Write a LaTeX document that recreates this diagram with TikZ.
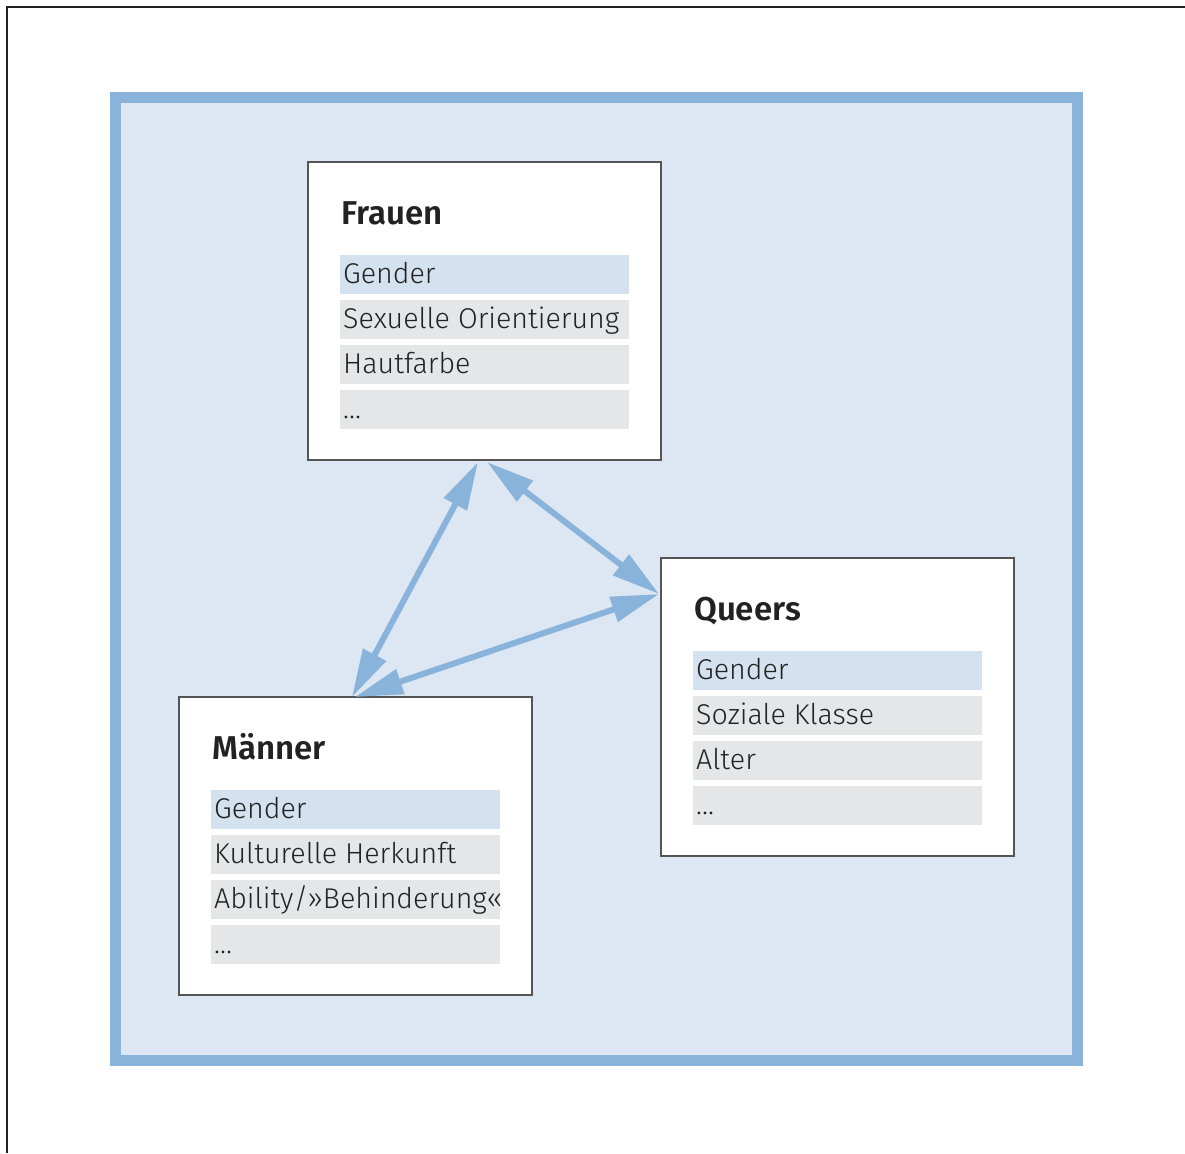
\documentclass[tikz,border=0pt]{standalone}
\usepackage{fontspec}
\setmainfont{Fira Sans Light}[BoldFont={Fira Sans SemiBold}]
\usetikzlibrary{arrows.meta,calc}
\definecolor{framecol}{HTML}{89B3DA}
\definecolor{fieldcol}{HTML}{DDE7F3}
\definecolor{keyrow}{HTML}{D4E2F0}
\definecolor{plainrow}{HTML}{E5E6E8}
\definecolor{inkcol}{HTML}{222222}
\definecolor{boxline}{HTML}{555555}
\newcommand\groupbox[6]{%
  % #1 name, #2 position of the top left corner, #3 title, #4-#6 rows
  \node[groupframe] (#1) at #2 {};
  \node[titletext] (#1-title) at ([shift={(33,62)}]#1.north west) {#3};
  \node[keyrowbox] (#1-r1) at ([shift={(32,93)}]#1.north west) {};
  \node[plainrowbox] (#1-r2) at ([shift={(32,138)}]#1.north west) {};
  \node[plainrowbox] (#1-r3) at ([shift={(32,183)}]#1.north west) {};
  \node[plainrowbox] (#1-r4) at ([shift={(32,228)}]#1.north west) {};
  \node[rowtext] at ([shift={(3,28)}]#1-r1.north west) {Gender};
  \node[rowtext] at ([shift={(3,28)}]#1-r2.north west) {#4};
  \node[rowtext] at ([shift={(3,28)}]#1-r3.north west) {#5};
  \node[rowtext] at ([shift={(3,28)}]#1-r4.north west) {#6};
}
\begin{document}
\begin{tikzpicture}[x=1pt,y=-1pt,
  groupframe/.style={draw=boxline,line width=1.2pt,fill=white,anchor=north west,
    minimum width=353pt,minimum height=298pt,inner sep=0pt,outer sep=0pt},
  rowbase/.style={anchor=north west,minimum width=289pt,minimum height=39pt,
    inner sep=0pt,outer sep=0pt},
  keyrowbox/.style={rowbase,fill=keyrow},
  plainrowbox/.style={rowbase,fill=plainrow},
  rowtext/.style={anchor=base west,inner sep=0pt,text=inkcol,font=\fontsize{28.6}{32}\selectfont},
  titletext/.style={anchor=base west,inner sep=0pt,text=inkcol,font=\fontsize{33}{36}\selectfont\bfseries},
  link/.style={draw=framecol,line width=6pt,{Triangle[length=48pt,width=25pt]}-{Triangle[length=48pt,width=25pt]}}
]
\useasboundingbox (0,0) rectangle (1185,1153);
% page frame
\draw[inkcol,line width=1.5pt] (7,1153) -- (7,7) -- (1185,7);
% blue field
\draw[draw=framecol,fill=fieldcol,line width=11pt] (115.5,97.5) rectangle (1077.5,1060);

\groupbox{frauen}{(308,162)}{Frauen}{Sexuelle Orientierung}{Hautfarbe}{\dots}
\groupbox{maenner}{(179,697)}{Männer}{Kulturelle Herkunft}{Ability/»Behinderung«}{\dots}
\groupbox{queers}{(661,558)}{Queers}{Soziale Klasse}{Alter}{\dots}

% docking points on the box borders
\coordinate (fA) at ($(frauen.south west)+(170,2)$);
\coordinate (fB) at ($(frauen.south west)+(179,2)$);
\coordinate (mA) at ($(maenner.north west)+(173,0)$);
\coordinate (mB) at ($(maenner.north west)+(176,0)$);
\coordinate (qA) at ($(queers.north west)+(-2,36)$);

\draw[link] (fA) -- (mA);
\draw[link] (fB) -- (qA);
\draw[link] (mB) -- (qA);
\end{tikzpicture}
\end{document}
